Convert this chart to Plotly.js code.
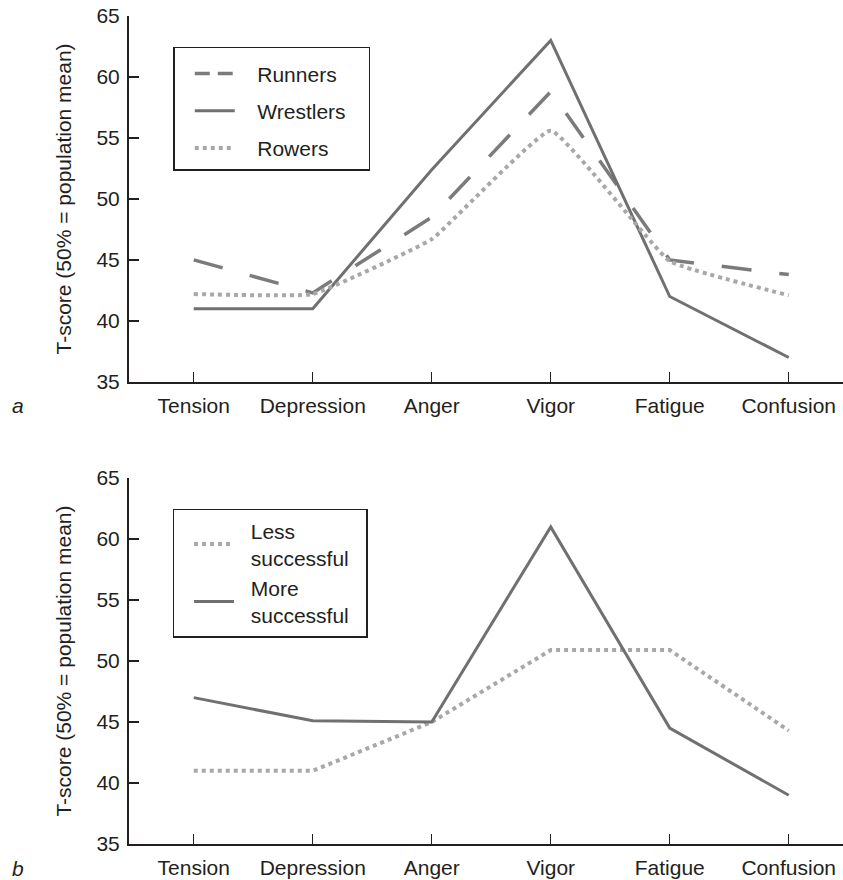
<!DOCTYPE html>
<html>
<head>
<meta charset="utf-8">
<script src="https://cdn.plot.ly/plotly-3.0.1.min.js"></script>
<style>
  html, body { margin: 0; padding: 0; background: #ffffff; }
  #chart { width: 843px; height: 880px; }
</style>
</head>
<body>
<div id="chart"></div>
<script>
// ---- data ----
const categories = ['Tension', 'Depression', 'Anger', 'Vigor', 'Fatigue', 'Confusion'];

// panel a
const runners   = [45.0, 42.3, 48.5, 58.8, 45.0, 43.8];
const wrestlers = [41.0, 41.0, 52.4, 63.0, 42.0, 37.0];
const rowers    = [42.2, 42.2, 46.7, 55.6, 44.9, 42.1];

// panel b
const lessSuccessful = [41.0, 41.0, 45.0, 50.9, 50.9, 44.3];
const moreSuccessful = [47.0, 45.1, 45.0, 61.0, 44.5, 39.0];

const yTicks = [35, 40, 45, 50, 55, 60, 65];
const yTitle = 'T-score (50% = population mean)';

// ---- styling ----
const FONT = 'Liberation Sans, Arial, Helvetica, sans-serif';
const INK = '#231f20';
const DARK = '#707072';
const MID = '#7b7b7d';
const LIGHT = '#a8a8aa';
const FS = 21;
const NB = '\u00a0';

const traces = [
  // panel a
  { x: categories, y: runners, xaxis: 'x', yaxis: 'y', mode: 'lines', name: 'Runners',
    showlegend: false, line: { color: MID, width: 3.5, dash: '30px,28px' } },
  { x: [null], y: [null], xaxis: 'x', yaxis: 'y', mode: 'lines', name: NB.repeat(3) + 'Runners',
    legend: 'legend', legendgroup: 'g1', line: { color: MID, width: 3.5, dash: '15px,8px' } },
  { x: categories, y: wrestlers, xaxis: 'x', yaxis: 'y', mode: 'lines', name: NB.repeat(3) + 'Wrestlers' + NB.repeat(3),
    legend: 'legend', legendgroup: 'g2', line: { color: DARK, width: 3 } },
  { x: categories, y: rowers, xaxis: 'x', yaxis: 'y', mode: 'lines', name: NB.repeat(3) + 'Rowers',
    legend: 'legend', legendgroup: 'g3',
    line: { color: LIGHT, width: 4, dash: '4px,4px', shape: 'spline', smoothing: 0.3 } },
  // panel b
  { x: categories, y: lessSuccessful, xaxis: 'x2', yaxis: 'y2', mode: 'lines',
    name: NB.repeat(2) + 'Less<br>' + NB.repeat(2) + 'successful' + NB.repeat(2),
    legend: 'legend2', legendgroup: 'h1', line: { color: LIGHT, width: 4, dash: '4px,4px' } },
  { x: categories, y: moreSuccessful, xaxis: 'x2', yaxis: 'y2', mode: 'lines',
    name: NB.repeat(2) + 'More<br>' + NB.repeat(2) + 'successful' + NB.repeat(2),
    legend: 'legend2', legendgroup: 'h2', line: { color: DARK, width: 3 } }
];

function xAxis(anchor) {
  return {
    anchor: anchor, domain: [0, 1], type: 'category',
    range: [-0.544, 5.456],
    showline: true, linecolor: INK, linewidth: 2,
    ticks: 'inside', ticklen: 10, tickwidth: 1.5, tickcolor: INK,
    showgrid: false, zeroline: false,
    tickfont: { family: FONT, size: FS, color: INK },
    ticklabelstandoff: 4,
    fixedrange: true
  };
}
function yAxis(anchor, domain) {
  return {
    anchor: anchor, domain: domain,
    range: [35, 65], tickvals: yTicks, ticktext: yTicks.map(String),
    showline: true, linecolor: INK, linewidth: 2,
    ticks: 'inside', ticklen: 10, tickwidth: 1.5, tickcolor: INK,
    showgrid: false, zeroline: false,
    tickfont: { family: FONT, size: FS, color: INK },
    ticklabelstandoff: 3,
    title: { text: yTitle, font: { family: FONT, size: FS, color: INK }, standoff: 19 },
    fixedrange: true
  };
}

const legendBase = {
  xanchor: 'left', yanchor: 'top',
  bgcolor: 'rgba(255,255,255,1)', bordercolor: INK, borderwidth: 1.5,
  font: { family: FONT, size: FS, color: INK },
  itemwidth: 40, indentation: 15, traceorder: 'grouped'
};

const layout = {
  width: 843, height: 880,
  margin: { l: 129, r: 0, t: 16, b: 35.7 },
  paper_bgcolor: '#ffffff', plot_bgcolor: '#ffffff',
  font: { family: FONT, size: FS, color: INK },
  xaxis: xAxis('y'),
  yaxis: yAxis('x', [0.5581, 1]),
  xaxis2: xAxis('y2'),
  yaxis2: yAxis('x2', [0, 0.4419]),
  legend: Object.assign({}, legendBase, { x: 0.062, y: 0.963, tracegroupgap: 7,
    title: { text: ' ', font: { family: FONT, size: 4, color: INK } } }),
  legend2: Object.assign({}, legendBase, { x: 0.061, y: 0.405, tracegroupgap: 0 }),
  annotations: [
    { text: '<i>a</i>', xref: 'paper', yref: 'paper', x: -0.155, y: 0.53,
      xanchor: 'center', yanchor: 'middle', showarrow: false,
      font: { family: FONT, size: FS, color: INK } },
    { text: '<i>b</i>', xref: 'paper', yref: 'paper', x: -0.155, y: -0.0298,
      xanchor: 'center', yanchor: 'middle', showarrow: false,
      font: { family: FONT, size: FS, color: INK } }
  ],
  showlegend: true
};

Plotly.newPlot('chart', traces, layout, { displayModeBar: false, staticPlot: true });
</script>
</body>
</html>
